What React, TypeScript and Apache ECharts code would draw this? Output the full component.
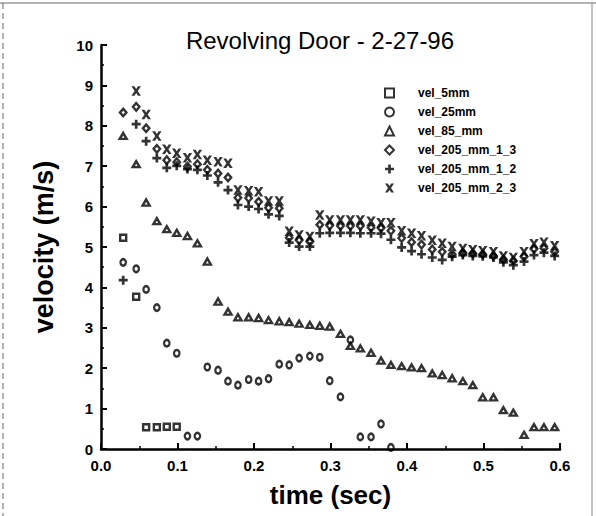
import React, { useEffect, useRef } from "react";
import * as echarts from "echarts";

const TITLE = "Revolving Door - 2-27-96";
const X_NAME = "time (sec)";
const Y_NAME = "velocity (m/s)";

const TIME = [
  0.029, 0.046, 0.059, 0.073, 0.086, 0.099, 0.113, 0.126, 0.139, 0.153, 0.166,
  0.179, 0.193, 0.206, 0.219, 0.233, 0.246, 0.259, 0.273, 0.286, 0.299, 0.313,
  0.326, 0.339, 0.353, 0.366, 0.379, 0.393, 0.406, 0.419, 0.433, 0.446, 0.459,
  0.473, 0.486, 0.499, 0.513, 0.526, 0.539, 0.553, 0.566, 0.579, 0.593,
];

const VEL_5MM = [5.23, 3.77, 0.54, 0.54, 0.55, 0.55];

const VEL_25MM = [
  4.62, 4.46, 3.95, 3.5, 2.62, 2.37, 0.32, 0.32, 2.03, 1.95, 1.68, 1.58, 1.72,
  1.68, 1.74, 2.1, 2.08, 2.25, 2.3, 2.27, 1.69, 1.29, 2.7, 0.3, 0.3, 0.62, 0.04,
];

const VEL_85_MM = [
  7.75, 7.05, 6.1, 5.64, 5.44, 5.35, 5.27, 5.09, 4.64, 3.65, 3.4, 3.26, 3.26,
  3.24, 3.19, 3.16, 3.14, 3.1, 3.07, 3.05, 3.03, 2.85, 2.55, 2.49, 2.38, 2.19,
  2.08, 2.05, 2.02, 2.0, 1.87, 1.83, 1.75, 1.68, 1.58, 1.28, 1.28, 0.96, 0.9,
  0.35, 0.54, 0.54, 0.54,
];

const VEL_205_MM_1_3 = [
  8.33, 8.47, 7.94, 7.43, 7.15, 7.1, 6.99, 7.05, 6.91, 6.82, 6.72, 6.22, 6.21,
  6.12, 5.97, 5.96, 5.23, 5.17, 5.13, 5.55, 5.53, 5.52, 5.52, 5.52, 5.48, 5.47,
  5.4, 5.22, 5.12, 5.06, 4.94, 4.88, 4.82, 4.85, 4.84, 4.82, 4.78, 4.69, 4.66,
  4.76, 4.95, 4.97, 4.88,
];

const VEL_205_MM_1_2 = [
  4.18, 8.04, 7.62, 7.2, 6.96, 7.01, 6.93, 6.91, 6.77, 6.6, 6.41, 6.04, 6.0,
  5.94, 5.81, 5.77, 5.11, 5.01, 5.01, 5.34, 5.35, 5.35, 5.35, 5.34, 5.34, 5.33,
  5.18, 4.99, 4.9, 4.82, 4.74, 4.68, 4.76, 4.8, 4.78, 4.77, 4.74, 4.62, 4.55,
  4.64, 4.8, 4.86, 4.78,
];

const VEL_205_MM_2_3 = [
  null, 8.86, 8.28, 7.75, 7.42, 7.32, 7.21, 7.29, 7.15, 7.11, 7.07, 6.41, 6.39,
  6.37, 6.14, 6.14, 5.39, 5.3, 5.26, 5.79, 5.67, 5.67, 5.67, 5.67, 5.64, 5.6,
  5.6, 5.4, 5.34, 5.28, 5.17, 5.09, 5.01, 4.96, 4.93, 4.91, 4.88, 4.78, 4.74,
  4.88, 5.08, 5.12, 5.03,
];

const SERIES_NAMES = [
  "vel_5mm",
  "vel_25mm",
  "vel_85_mm",
  "vel_205_mm_1_3",
  "vel_205_mm_1_2",
  "vel_205_mm_2_3",
];

const PLUS_PATH = "path://M2.8,0H5.2V2.8H8V5.2H5.2V8H2.8V5.2H0V2.8H2.8Z";
const CROSS_PATH =
  "path://M0,0L2.8,0L4.5,2.6L6.2,0L9,0L6,4.5L9,9L6.2,9L4.5,6.4L2.8,9L0,9L3,4.5Z";

const FONT = "Liberation Sans, Arial, sans-serif";

function toPoints(vals: (number | null)[]) {
  const out: [number, number][] = [];
  vals.forEach((v, i) => {
    if (v !== null && v !== undefined) out.push([TIME[i], v]);
  });
  return out;
}

export default function App() {
  const ref = useRef<HTMLDivElement>(null);

  useEffect(() => {
    if (!ref.current) return;
    const chart = echarts.init(ref.current, null, { renderer: "svg" });

    const hollow = {
      color: "rgba(0,0,0,0)",
      borderColor: "#000",
      borderWidth: 2.4,
    };
    const solid = { color: "#000", borderWidth: 0 };

    const specs = [
      { data: VEL_5MM, symbol: "rect", size: [6, 6], style: hollow },
      { data: VEL_25MM, symbol: "circle", size: [5.5, 6.5], style: hollow },
      { data: VEL_85_MM, symbol: "triangle", size: [7, 6], style: hollow },
      { data: VEL_205_MM_1_3, symbol: "diamond", size: [6.5, 7.5], style: hollow },
      { data: VEL_205_MM_1_2, symbol: PLUS_PATH, size: [9, 9], style: solid },
      { data: VEL_205_MM_2_3, symbol: CROSS_PATH, size: [9.5, 9.5], style: solid },
    ];

    const series = specs.map((s, i) => ({
      name: SERIES_NAMES[i],
      type: "scatter",
      data: toPoints(s.data),
      symbol: s.symbol,
      symbolSize: s.size,
      itemStyle: s.style,
      emphasis: { disabled: true },
    }));

    chart.setOption({
      animation: false,
      backgroundColor: "#fff",
      grid: { left: 101, top: 45, right: 36, bottom: 67, containLabel: false },
      legend: {
        orient: "vertical",
        left: 379,
        top: 81,
        itemWidth: 9,
        itemHeight: 9,
        itemGap: 5,
        selectedMode: false,
        textStyle: {
          fontFamily: FONT,
          fontWeight: "bold",
          fontSize: 12,
          lineHeight: 14,
          color: "#000",
          padding: [0, 0, 0, 19],
        },
        data: SERIES_NAMES,
      },
      xAxis: {
        type: "value",
        min: 0,
        max: 0.6,
        interval: 0.1,
        name: X_NAME,
        nameLocation: "middle",
        nameGap: 33,
        nameTextStyle: {
          fontFamily: FONT,
          fontSize: 26,
          fontWeight: "bold",
          color: "#000",
        },
        axisLine: { lineStyle: { color: "#000", width: 2.5 } },
        axisTick: { inside: true, length: 6, lineStyle: { color: "#000", width: 2 } },
        minorTick: { show: true, splitNumber: 2, length: 3, lineStyle: { color: "#000", width: 1.5 } },
        splitLine: { show: false },
        axisLabel: {
          formatter: (v: number) => v.toFixed(1),
          fontFamily: FONT,
          fontSize: 15,
          fontWeight: "bold",
          color: "#000",
          margin: 9,
        },
      },
      yAxis: {
        type: "value",
        min: 0,
        max: 10,
        interval: 1,
        name: Y_NAME,
        nameLocation: "middle",
        nameGap: 44,
        nameTextStyle: {
          fontFamily: FONT,
          fontSize: 27,
          fontWeight: "bold",
          color: "#000",
        },
        axisLine: { lineStyle: { color: "#000", width: 2.5 } },
        axisTick: { inside: true, length: 6, lineStyle: { color: "#000", width: 2 } },
        minorTick: { show: true, splitNumber: 2, length: 3, lineStyle: { color: "#000", width: 1.5 } },
        splitLine: { show: false },
        axisLabel: {
          fontFamily: FONT,
          fontSize: 15,
          fontWeight: "bold",
          color: "#000",
          margin: 8,
        },
      },
      graphic: [
        {
          type: "text",
          x: 320,
          y: 40,
          style: {
            text: TITLE,
            fontFamily: FONT,
            fontSize: 24,
            fill: "#000",
            textAlign: "center",
            textVerticalAlign: "middle",
          },
        },
        {
          type: "line",
          shape: { x1: 0, y1: 3, x2: 596, y2: 3 },
          style: { stroke: "#666", lineWidth: 1 },
        },
        {
          type: "line",
          shape: { x1: 3, y1: 3, x2: 3, y2: 516 },
          style: { stroke: "#666", lineWidth: 1, lineDash: [6, 4] },
        },
        {
          type: "line",
          shape: { x1: 592, y1: 3, x2: 592, y2: 516 },
          style: { stroke: "#888", lineWidth: 1 },
        },
      ],
      series,
    });

    return () => chart.dispose();
  }, []);

  return (
    <div
      ref={ref}
      style={{ position: "fixed", left: 0, top: 0, width: 596, height: 516, background: "#fff" }}
    />
  );
}
